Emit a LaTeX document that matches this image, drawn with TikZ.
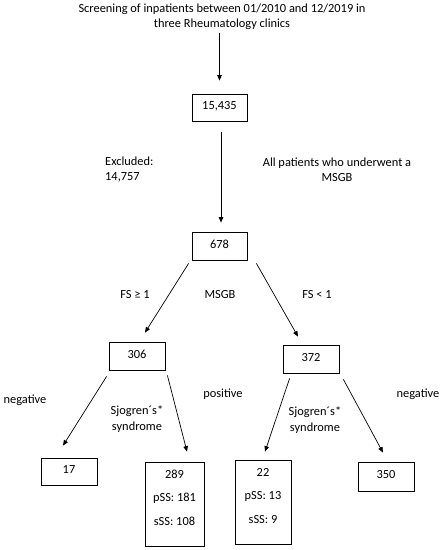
\documentclass[tikz,border=0pt]{standalone}
\usepackage{fontspec}
\setmainfont{Carlito}
\usetikzlibrary{arrows.meta}
\begin{document}
\begin{tikzpicture}[x=1pt,y=-1pt,
  every node/.style={font=\fontsize{12.4}{15.5}\selectfont},
  lbl/.style={inner sep=0pt, align=center},
  box/.style={draw, line width=0.8pt, inner sep=0pt, minimum width=56pt, minimum height=28pt, align=center, text depth=4pt},
  tallbox/.style={box, minimum height=84pt, text depth=13pt, font=\fontsize{12.4}{23.5}\selectfont},
  arr/.style={line width=0.7pt, -{Triangle[length=5.5pt,width=4.5pt]}}]
\useasboundingbox (0,0) rectangle (443,550);
\node[lbl] (title) at (222,17) {Screening of inpatients between 01/2010 and 12/2019 in\\three Rheumatology clinics};
\node[box, minimum width=55pt, minimum height=27pt] (b1) at (219.5,107.5) {15,435};
\node[box, minimum width=55pt] (b2) at (219.5,246) {678};
\node[box] (b3) at (137,356) {306};
\node[box] (b4) at (311,359) {372};
\node[box, minimum height=27pt] (b5) at (69,471.5) {17};
\node[tallbox, minimum width=59pt] (b6) at (174.5,504) {289\\pSS: 181\\sSS: 108};
\node[tallbox] (b7) at (263,502) {22\\pSS: 13\\sSS: 9};
\node[box, minimum height=29pt] (b8) at (386,476.5) {350};

\node[lbl, align=left, anchor=west] (excl) at (105,169.5) {Excluded:\\14,757};
\node[lbl] (allp) at (337,169.5) {All patients who underwent a\\MSGB};
\node[lbl] (fs1) at (135,295) {FS ≥ 1};
\node[lbl] (msgb) at (220,295) {MSGB};
\node[lbl] (fs2) at (317,295) {FS < 1};
\node[lbl] (neg1) at (25,400) {negative};
\node[lbl] (sj1) at (137,419) {Sjogren´s*\\syndrome};
\node[lbl] (pos) at (223,394) {positive};
\node[lbl] (sj2) at (315,420) {Sjogren´s*\\syndrome};
\node[lbl] (neg2) at (418,394) {negative};

\draw[arr] ([shift={(0,-61)}]b1.north) -- ([shift={(0,-13)}]b1.north);
\draw[arr] ([shift={(1.5,11)}]b1.south) -- ([shift={(1.5,-9)}]b2.north);
\draw[arr] ([shift={(-3,3)}]b2.south west) -- ([shift={(8,-9)}]b3.north);
\draw[arr] ([shift={(9,3)}]b2.south east) -- ([shift={(-13,-8)}]b4.north);
\draw[arr] ([shift={(-2,6)}]b3.south west) -- ([shift={(-6,-12)}]b5.north);
\draw[arr] ([shift={(2,5)}]b3.south east) -- ([shift={(12.5,-10)}]b6.north);
\draw[arr] ([shift={(7,5)}]b4.south west) -- ([shift={(2,-8)}]b7.north);
\draw[arr] ([shift={(4,6)}]b4.south east) -- ([shift={(-3,-9)}]b8.north);
\end{tikzpicture}
\end{document}
